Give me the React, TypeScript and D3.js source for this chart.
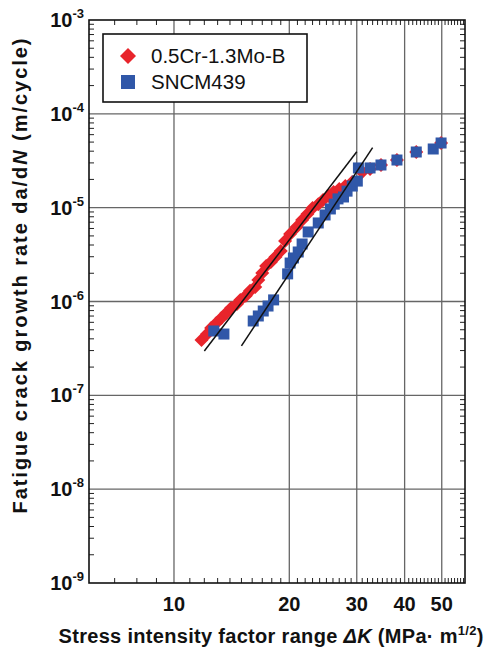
import React, { useEffect, useRef } from "react";
import * as d3 from "d3";

// ΔK (MPa·m^1/2) and da/dN (m/cycle)
const crMoK = [11.8, 12.2, 12.5, 12.9, 13.3, 13.7, 14.1, 14.6, 14.9, 15.4, 15.8, 16.3, 16.6, 17.0, 17.4, 17.9, 18.4, 19.0, 19.5, 20.1, 20.9, 21.6, 22.3, 23.0, 23.8, 24.5, 25.3, 26.1, 27.0, 28.0, 29.2, 31.0, 32.5, 34.7, 38.2, 42.9, 49.8];
const crMoRate = [3.89e-7, 4.5e-7, 5.22e-7, 5.9e-7, 6.67e-7, 7.54e-7, 8.52e-7, 9.41e-7, 1.04e-6, 1.15e-6, 1.3e-6, 1.43e-6, 1.7e-6, 2.01e-6, 2.39e-6, 2.64e-6, 2.98e-6, 3.46e-6, 4.42e-6, 5.24e-6, 6.23e-6, 7.4e-6, 8.57e-6, 9.93e-6, 1.09e-5, 1.21e-5, 1.33e-5, 1.47e-5, 1.58e-5, 1.7e-5, 1.88e-5, 2.4e-5, 2.58e-5, 2.85e-5, 3.22e-5, 3.92e-5, 4.89e-5];

const sncmK = [12.7, 13.5, 16.1, 16.6, 17.1, 17.6, 18.2, 19.8, 20.1, 20.5, 21.1, 21.6, 22.4, 23.8, 24.8, 25.6, 26.2, 26.8, 27.7, 28.3, 29.2, 30.1, 30.3, 32.5, 34.7, 38.2, 42.9, 47.5, 49.8];
const sncmRate = [4.85e-7, 4.5e-7, 6.2e-7, 7.01e-7, 7.92e-7, 8.95e-7, 1.04e-6, 1.97e-6, 2.57e-6, 2.91e-6, 3.37e-6, 4.1e-6, 5.51e-6, 6.87e-6, 8.36e-6, 9.69e-6, 1.09e-5, 1.24e-5, 1.3e-5, 1.5e-5, 1.7e-5, 1.92e-5, 2.65e-5, 2.65e-5, 2.85e-5, 3.22e-5, 3.92e-5, 4.22e-5, 4.89e-5];

// Paris-law fit lines, end points [ΔK, da/dN]
const crMoFit = [[12, 2.97e-7], [30, 3.95e-5]];
const sncmFit = [[15, 3.36e-7], [33, 4.36e-5]];

const xTickValues = [10, 20, 30, 40, 50];
const yExponents = [-9, -8, -7, -6, -5, -4, -3];
const seriesNames = ["0.5Cr-1.3Mo-B", "SNCM439"];

const RED = "#e8242b";
const BLUE = "#3057a8";
const FONT = "'Liberation Sans', Arial, sans-serif";

const App = () => {
    const ref = useRef(null);

    useEffect(() => {
        const width = 492;
        const height = 650;
        const left = 89, right = 465, top = 20, bottom = 583;

        d3.select(ref.current).selectAll("*").remove();
        const svg = d3
            .select(ref.current)
            .append("svg")
            .attr("width", width)
            .attr("height", height)
            .style("position", "absolute")
            .style("left", "0px")
            .style("top", "0px")
            .style("font-family", FONT)
            .style("background", "white");

        const x = d3.scaleLog().domain([6, 57.5]).range([left, right]);
        const y = d3.scaleLog().domain([1e-9, 1e-3]).range([bottom, top]);

        // grid
        const grid = svg.append("g").attr("stroke", "#666").attr("stroke-width", 1.3);
        grid.selectAll("line.v")
            .data(xTickValues)
            .join("line")
            .attr("x1", (d) => x(d)).attr("x2", (d) => x(d))
            .attr("y1", top).attr("y2", bottom);
        grid.selectAll("line.h")
            .data(yExponents.slice(1, -1))
            .join("line")
            .attr("class", "h")
            .attr("x1", left).attr("x2", right)
            .attr("y1", (d) => y(Math.pow(10, d))).attr("y2", (d) => y(Math.pow(10, d)));

        // minor ticks
        const xMinor = d3.range(6, 58, 1).filter((d) => x(d) > left + 1 && x(d) < right - 1 && !xTickValues.includes(d));
        const yMinor = [];
        for (let e = -9; e < -3; e++) {
            for (let m = 2; m <= 9; m++) yMinor.push(m * Math.pow(10, e));
        }
        const ticks = svg.append("g").attr("stroke", "#222").attr("stroke-width", 1);
        const tl = 5;
        ticks.selectAll("line.xb").data(xMinor).join("line").attr("class", "xb")
            .attr("x1", (d) => x(d)).attr("x2", (d) => x(d)).attr("y1", bottom).attr("y2", bottom - tl);
        ticks.selectAll("line.xt").data(xMinor).join("line").attr("class", "xt")
            .attr("x1", (d) => x(d)).attr("x2", (d) => x(d)).attr("y1", top).attr("y2", top + tl);
        ticks.selectAll("line.yl").data(yMinor).join("line").attr("class", "yl")
            .attr("x1", left).attr("x2", left + tl).attr("y1", (d) => y(d)).attr("y2", (d) => y(d));
        ticks.selectAll("line.yr").data(yMinor).join("line").attr("class", "yr")
            .attr("x1", right).attr("x2", right - tl).attr("y1", (d) => y(d)).attr("y2", (d) => y(d));

        // frame
        svg.append("rect")
            .attr("x", left).attr("y", top)
            .attr("width", right - left).attr("height", bottom - top)
            .attr("fill", "none").attr("stroke", "#111").attr("stroke-width", 1.6);

        // data
        const redPts = crMoK.map((k, i) => [k, crMoRate[i]]);
        const bluePts = sncmK.map((k, i) => [k, sncmRate[i]]);
        const dr = 7;
        svg.append("g").selectAll("path").data(redPts).join("path")
            .attr("d", (d) => {
                const cx = x(d[0]), cy = y(d[1]);
                return `M${cx},${cy - dr}L${cx + dr},${cy}L${cx},${cy + dr}L${cx - dr},${cy}Z`;
            })
            .attr("fill", RED);
        const sq = 11;
        svg.append("g").selectAll("rect").data(bluePts).join("rect")
            .attr("x", (d) => x(d[0]) - sq / 2).attr("y", (d) => y(d[1]) - sq / 2)
            .attr("width", sq).attr("height", sq)
            .attr("fill", BLUE);

        // fit lines
        const line = d3.line().x((d) => x(d[0])).y((d) => y(d[1]));
        [crMoFit, sncmFit].forEach((f) => {
            svg.append("path").attr("d", line(f)).attr("stroke", "#111").attr("stroke-width", 1.5).attr("fill", "none");
        });

        // x tick labels
        svg.append("g").selectAll("text").data(xTickValues).join("text")
            .attr("x", (d) => x(d)).attr("y", 611)
            .attr("text-anchor", "middle")
            .attr("font-size", 20).attr("font-weight", "bold")
            .attr("fill", "#111")
            .text((d) => d);

        // y tick labels
        const yl = svg.append("g").selectAll("text").data(yExponents).join("text")
            .attr("x", 84).attr("y", (d) => y(Math.pow(10, d)) + 7)
            .attr("text-anchor", "end")
            .attr("font-size", 20).attr("font-weight", "bold")
            .attr("fill", "#111");
        yl.append("tspan").text("10");
        yl.append("tspan").attr("dy", -9).attr("font-size", 13).text((d) => String(d));

        // axis titles
        const xt = svg.append("text")
            .attr("x", 271).attr("y", 643)
            .attr("text-anchor", "middle")
            .attr("font-size", 20).attr("font-weight", "bold").attr("fill", "#111")
            .attr("textLength", 425).attr("lengthAdjust", "spacing");
        xt.append("tspan").text("Stress intensity factor range ");
        xt.append("tspan").attr("font-style", "italic").text("ΔK");
        xt.append("tspan").text(" (MPa· m");
        xt.append("tspan").attr("dy", -8).attr("font-size", 13).text("1/2");
        xt.append("tspan").attr("dy", 8).text(")");

        const yt = svg.append("text")
            .attr("transform", "translate(27,276) rotate(-90)")
            .attr("text-anchor", "middle")
            .attr("font-size", 20).attr("font-weight", "bold").attr("fill", "#111")
            .attr("textLength", 475).attr("lengthAdjust", "spacing");
        yt.append("tspan").text("Fatigue crack growth rate da/d");
        yt.append("tspan").attr("font-style", "italic").text("N");
        yt.append("tspan").text(" (m/cycle)");

        // legend
        const lg = svg.append("g");
        lg.append("rect")
            .attr("x", 103).attr("y", 34).attr("width", 204).attr("height", 68)
            .attr("fill", "white").attr("stroke", "#111").attr("stroke-width", 1.6);
        const ld = 8;
        lg.append("path")
            .attr("d", `M128,${56 - ld}L${128 + ld},56L128,${56 + ld}L${128 - ld},56Z`)
            .attr("fill", RED);
        lg.append("rect").attr("x", 121).attr("y", 75).attr("width", 14).attr("height", 14).attr("fill", BLUE);
        lg.selectAll("text").data(seriesNames).join("text")
            .attr("x", 151).attr("y", (d, i) => 63 + i * 25.5)
            .attr("font-size", 20.5).attr("fill", "#111")
            .text((d) => d);
    }, []);

    return <div ref={ref}></div>;
};

export default App;
